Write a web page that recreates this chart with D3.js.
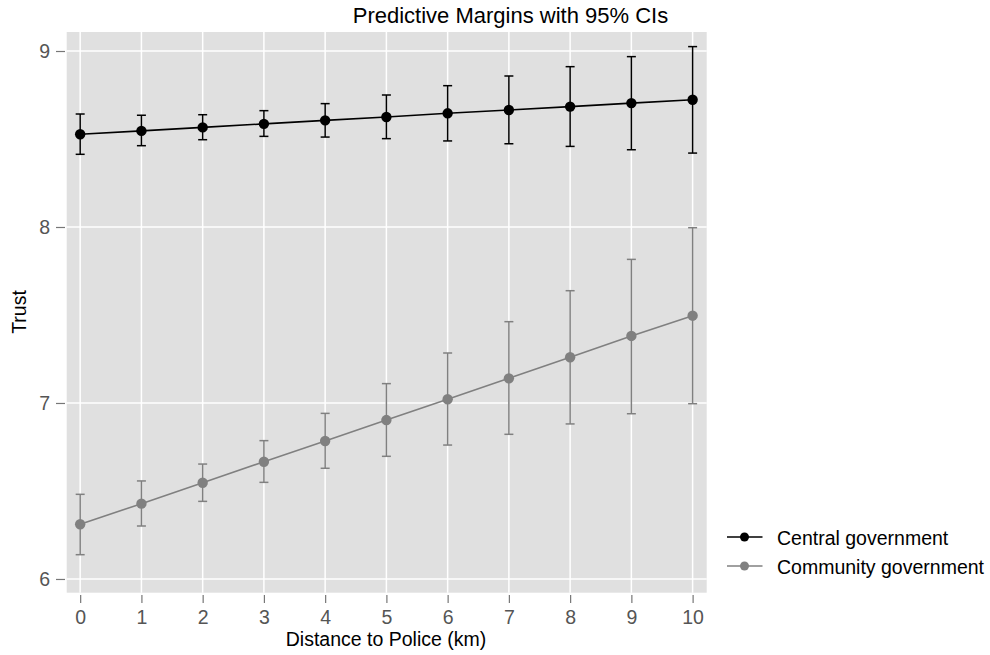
<!DOCTYPE html>
<html>
<head>
<meta charset="utf-8">
<script src="https://cdn.jsdelivr.net/npm/d3@7"></script>
<style>
  body { margin: 0; background: #fff; }
  text { font-family: "Liberation Sans", Arial, Helvetica, sans-serif; }
</style>
</head>
<body>
<svg width="990" height="655"></svg>
<script>
// distance to police (km)
var distance = [0, 1, 2, 3, 4, 5, 6, 7, 8, 9, 10];

// central government: margin, lower and upper 95% CI
var centralMargin = [8.527, 8.546, 8.566, 8.586, 8.606, 8.625, 8.646, 8.665, 8.684, 8.704, 8.723];
var centralLow    = [8.413, 8.462, 8.496, 8.515, 8.511, 8.502, 8.489, 8.473, 8.458, 8.439, 8.420];
var centralHigh   = [8.642, 8.635, 8.638, 8.661, 8.701, 8.750, 8.803, 8.858, 8.911, 8.968, 9.025];

// community government
var communityMargin = [6.311, 6.428, 6.547, 6.666, 6.784, 6.903, 7.021, 7.140, 7.260, 7.381, 7.496];
var communityLow    = [6.138, 6.301, 6.441, 6.549, 6.629, 6.697, 6.761, 6.822, 6.881, 6.939, 6.996];
var communityHigh   = [6.481, 6.557, 6.653, 6.786, 6.941, 7.110, 7.284, 7.462, 7.638, 7.816, 7.996];

var yTicks = [6, 7, 8, 9];
var seriesNames = ["Central government", "Community government"];

var svg = d3.select("svg");

var x = d3.scaleLinear().domain([-0.22, 10.23]).range([66.7, 706.7]);
var y = d3.scaleLinear().domain([5.922, 9.108]).range([592.7, 32]);

// plot background
svg.append("rect")
    .attr("x", x.range()[0])
    .attr("y", y.range()[1])
    .attr("width", x.range()[1] - x.range()[0])
    .attr("height", y.range()[0] - y.range()[1])
    .attr("fill", "#e0e0e0");

// grid
svg.selectAll("line.vgrid")
    .data(distance)
    .enter().append("line")
    .attr("class", "vgrid")
    .attr("x1", function (d) { return x(d); })
    .attr("x2", function (d) { return x(d); })
    .attr("y1", y.range()[1])
    .attr("y2", y.range()[0])
    .attr("stroke", "#fff")
    .attr("stroke-width", 1.5);

svg.selectAll("line.hgrid")
    .data(yTicks)
    .enter().append("line")
    .attr("class", "hgrid")
    .attr("x1", x.range()[0])
    .attr("x2", x.range()[1])
    .attr("y1", function (d) { return y(d); })
    .attr("y2", function (d) { return y(d); })
    .attr("stroke", "#fff")
    .attr("stroke-width", 1.5);

// axes
var xAxis = d3.axisBottom(x).tickValues(distance).tickSize(8).tickPadding(7).tickFormat(d3.format("d"));
var gx = svg.append("g")
    .attr("transform", "translate(0,595)")
    .call(xAxis);
gx.select(".domain").remove();

var yAxis = d3.axisLeft(y).tickValues(yTicks).tickSize(9).tickPadding(6).tickFormat(d3.format("d"));
var gy = svg.append("g")
    .attr("transform", "translate(65,0)")
    .call(yAxis);
gy.select(".domain").remove();

svg.selectAll(".tick line").attr("stroke", "#777").attr("stroke-width", 1.2);
svg.selectAll(".tick text")
    .attr("fill", "#555")
    .style("font-size", "19.5px")
    .style("font-family", "'Liberation Sans', Arial, sans-serif");

// series
var series = [
    { name: seriesNames[0], color: "#000", m: centralMargin, lo: centralLow, hi: centralHigh },
    { name: seriesNames[1], color: "#808080", m: communityMargin, lo: communityLow, hi: communityHigh }
];

var line = d3.line()
    .x(function (d) { return x(d[0]); })
    .y(function (d) { return y(d[1]); });

var capW = 4.5;

series.forEach(function (s) {
    var g = svg.append("g");
    var pts = distance.map(function (d, i) { return [d, s.m[i], s.lo[i], s.hi[i]]; });

    g.append("path")
        .datum(pts)
        .attr("d", line)
        .attr("fill", "none")
        .attr("stroke", s.color)
        .attr("stroke-width", 1.6);

    var eb = g.selectAll("g.eb").data(pts).enter().append("g");
    eb.append("line")
        .attr("x1", function (d) { return x(d[0]); })
        .attr("x2", function (d) { return x(d[0]); })
        .attr("y1", function (d) { return y(d[2]); })
        .attr("y2", function (d) { return y(d[3]); })
        .attr("stroke", s.color).attr("stroke-width", 1.5);
    [2, 3].forEach(function (k) {
        eb.append("line")
            .attr("x1", function (d) { return x(d[0]) - capW; })
            .attr("x2", function (d) { return x(d[0]) + capW; })
            .attr("y1", function (d) { return y(d[k]); })
            .attr("y2", function (d) { return y(d[k]); })
            .attr("stroke", s.color).attr("stroke-width", 1.5);
    });

    g.selectAll("circle").data(pts).enter().append("circle")
        .attr("cx", function (d) { return x(d[0]); })
        .attr("cy", function (d) { return y(d[1]); })
        .attr("r", 5.2)
        .attr("fill", s.color);
});

// title and labels
svg.append("text")
    .attr("x", 510.5)
    .attr("y", 23)
    .attr("text-anchor", "middle")
    .style("font-size", "22px")
    .text("Predictive Margins with 95% CIs");

svg.append("text")
    .attr("x", 386)
    .attr("y", 646)
    .attr("text-anchor", "middle")
    .style("font-size", "19.5px")
    .text("Distance to Police (km)");

svg.append("text")
    .attr("transform", "translate(26,312)rotate(-90)")
    .attr("text-anchor", "middle")
    .style("font-size", "19.5px")
    .text("Trust");

// legend
var legend = svg.selectAll("g.legend")
    .data(series)
    .enter().append("g")
    .attr("transform", function (d, i) { return "translate(727," + (537 + i * 29) + ")"; });

legend.append("line")
    .attr("x1", 0).attr("x2", 35.5)
    .attr("stroke", function (d) { return d.color; })
    .attr("stroke-width", 1.6);
legend.append("circle")
    .attr("cx", 17.5).attr("r", 4.5)
    .attr("fill", function (d) { return d.color; });
legend.append("text")
    .attr("x", 50)
    .attr("y", 8)
    .style("font-size", "19.5px")
    .text(function (d) { return d.name; });
</script>
</body>
</html>
